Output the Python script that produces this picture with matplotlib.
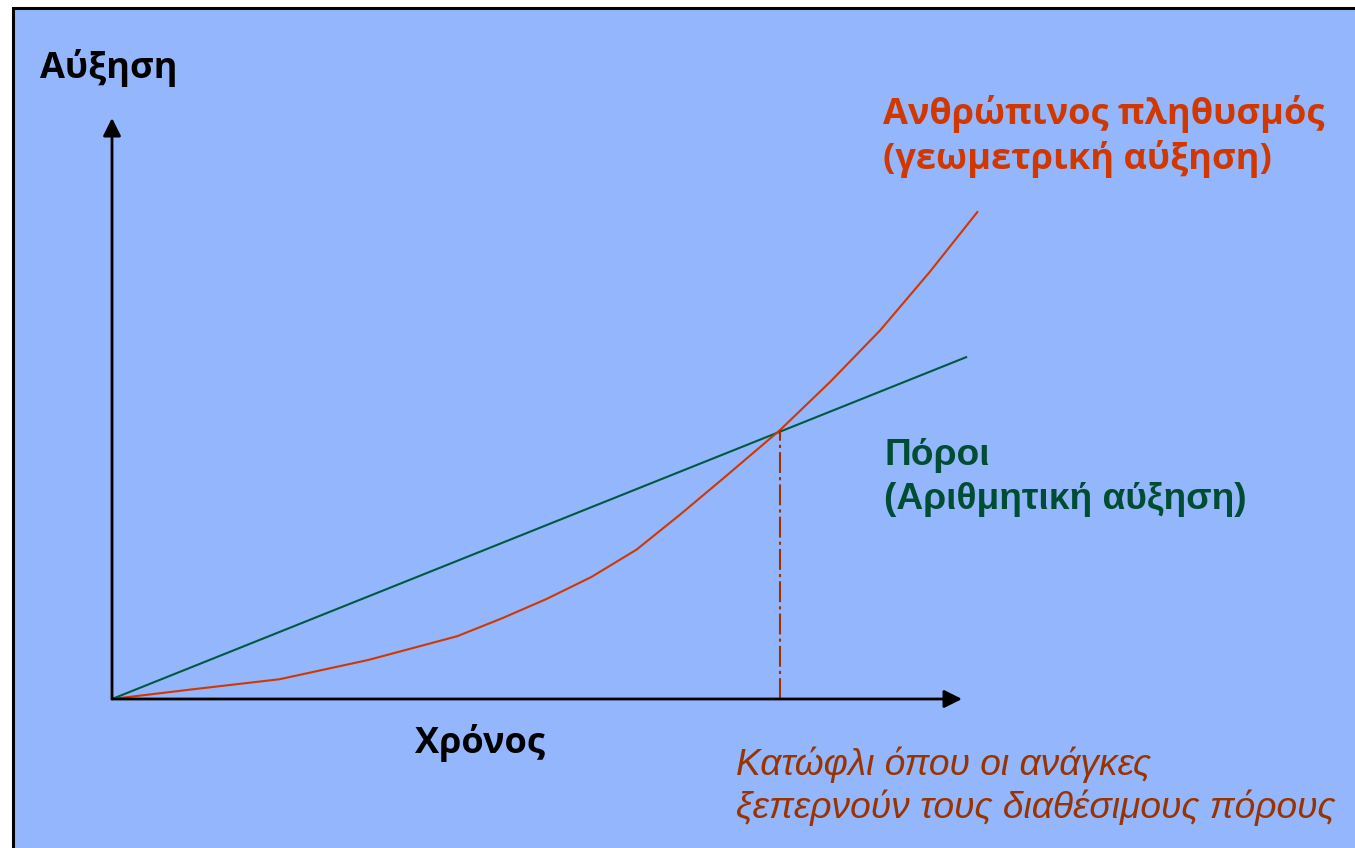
import matplotlib
matplotlib.use("Agg")
import matplotlib.pyplot as plt
from matplotlib.patches import Rectangle

# data (time units 0..10, growth units 0..10)
pop_t = [0, 0.91, 1.97, 3.01, 4.06, 4.59, 5.11, 5.64, 6.17, 6.68, 7.21,
         7.86, 8.45, 9.04, 9.62, 10.18]
pop_y = [0, 0.16, 0.34, 0.67, 1.08, 1.39, 1.72, 2.10, 2.57, 3.17, 3.82,
         4.63, 5.46, 6.35, 7.35, 8.38]
res_t = [0, 10.06]
res_y = [0, 5.89]
threshold_t = 7.86
threshold_y = 4.63
axis_end_t = 10.0
axis_end_y = 10.0

W, H = 1355, 848
BLUE = "#93b6fc"
RED = "#d03800"
GREEN = "#005a40"
BROWN = "#993300"


def fpos(x, y):
    # pixel position -> figure fraction
    return x / W, 1 - y / H


fig = plt.figure(figsize=(W / 100, H / 100), dpi=100, facecolor="white")
fig.add_artist(Rectangle(fpos(13, 860), (W + 20) / W, 852 / H,
                         transform=fig.transFigure, facecolor=BLUE,
                         edgecolor="black", lw=2.2, zorder=-1))

# axes box: origin at pixel (112, 699), 10 units = 850 px in x, 581 px in y
ax = fig.add_axes([112 / W, 1 - 699 / H, 850 / W, 581 / H])
ax.set_xlim(0, 10)
ax.set_ylim(0, 10)
ax.axis("off")

ax.plot(res_t, res_y, color=GREEN, lw=1.5, clip_on=False, solid_capstyle="butt")
ax.plot(pop_t, pop_y, color=RED, lw=1.5, clip_on=False, solid_joinstyle="round")
ax.plot([threshold_t, threshold_t], [0, threshold_y], color=BROWN, lw=1.5,
        dashes=(10, 2, 1.5, 2))

arrow = dict(arrowstyle="-|>,head_length=0.6,head_width=0.3", lw=2.0,
             color="black", mutation_scale=18, shrinkA=0, shrinkB=0)
ax.annotate("", xy=(axis_end_t, 0), xytext=(0, 0), arrowprops=arrow,
            annotation_clip=False)
ax.annotate("", xy=(0, axis_end_y), xytext=(0, 0), arrowprops=arrow,
            annotation_clip=False)

bold = dict(family=["Open Sans", "DejaVu Sans"], weight="bold", fontsize=26)
fig.text(*fpos(40, 78), "Αύξηση", color="black", va="baseline", **bold)
fig.text(*fpos(415, 753), "Χρόνος", color="black", va="baseline", **bold)
fig.text(*fpos(883, 124), "Ανθρώπινος πληθυσμός", color=RED, va="baseline", **bold)
fig.text(*fpos(883, 169), "(γεωμετρική αύξηση)", color=RED, va="baseline", **bold)

arial = dict(family=["Liberation Sans", "DejaVu Sans"], weight="bold", fontsize=26.7)
fig.text(*fpos(884, 465), "Πόροι", color="#004d33", va="baseline", **arial)
fig.text(*fpos(884, 509), "(Αριθμητική αύξηση)", color="#004d33", va="baseline", **arial)

ital = dict(family=["Liberation Sans", "DejaVu Sans"], style="italic", fontsize=26.7)
fig.text(*fpos(736, 775), "Κατώφλι όπου οι ανάγκες", color=BROWN, va="baseline", **ital)
fig.text(*fpos(736, 818), "ξεπερνούν τους διαθέσιμους πόρους", color=BROWN,
         va="baseline", **ital)

fig.savefig("out.png", dpi=100, facecolor="white")
